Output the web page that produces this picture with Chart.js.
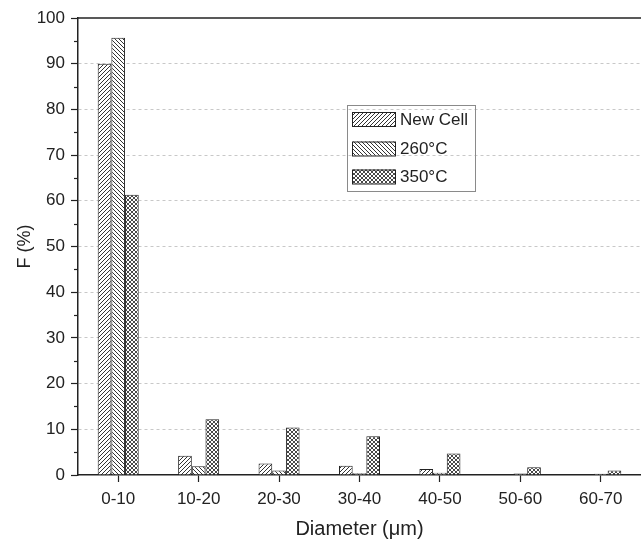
<!DOCTYPE html>
<html>
<head>
<meta charset="utf-8">
<script src="https://cdn.jsdelivr.net/npm/chart.js@4/dist/chart.umd.min.js"></script>
<style>
html,body{margin:0;padding:0;background:#fff;}
#wrap{width:641px;height:541px;position:relative;}
</style>
</head>
<body>
<div id="wrap"><canvas id="c" width="641" height="541"></canvas></div>
<script>
const categories = ["0-10","10-20","20-30","30-40","40-50","50-60","60-70"];
const seriesNames = ["New Cell","260\u00B0C","350\u00B0C"];
const newCell = [90, 4.2, 2.5, 2.0, 1.3, 0, 0];
const c260 = [95.7, 1.9, 1.0, 0.4, 0.5, 0.35, 0.3];
const c350 = [61.3, 12.2, 10.4, 8.5, 4.7, 1.7, 1.0];
const yTicks = [0,10,20,30,40,50,60,70,80,90,100];

const FONT = "'Liberation Sans', Arial, sans-serif";
const ctx0 = document.getElementById('c').getContext('2d');

function makePattern(kind){
  const s = 4;
  const t = document.createElement('canvas');
  t.width = s; t.height = s;
  const g = t.getContext('2d');
  g.fillStyle = '#fff'; g.fillRect(0,0,s,s);
  g.strokeStyle = '#333'; g.lineWidth = 1;
  function fwd(){ g.beginPath(); g.moveTo(-1,s+1); g.lineTo(s+1,-1); g.moveTo(-1,1); g.lineTo(1,-1); g.moveTo(s-1,s+1); g.lineTo(s+1,s-1); g.stroke(); }
  function back(){ g.beginPath(); g.moveTo(-1,-1); g.lineTo(s+1,s+1); g.moveTo(s-1,-1); g.lineTo(s+1,1); g.moveTo(-1,s-1); g.lineTo(1,s+1); g.stroke(); }
  if(kind==='fwd') fwd();
  else if(kind==='back') back();
  else { g.lineWidth = 0.9; fwd(); back(); }
  return ctx0.createPattern(t,'repeat');
}
const patterns = [makePattern('fwd'), makePattern('back'), makePattern('cross')];

const extras = {
  id:'extras',
  afterDraw(chart){
    const {ctx, chartArea:a, scales:{y}} = chart;
    ctx.save();
    // top border
    ctx.strokeStyle = '#222'; ctx.lineWidth = 1.5;
    ctx.beginPath(); ctx.moveTo(a.left, a.top); ctx.lineTo(chart.width, a.top); ctx.stroke();
    // minor ticks
    ctx.lineWidth = 1.2;
    for(let v=5; v<100; v+=10){
      const py = Math.round(y.getPixelForValue(v))+0.5;
      ctx.beginPath(); ctx.moveTo(a.left-4, py); ctx.lineTo(a.left, py); ctx.stroke();
    }
    // legend
    const lx = 347, ly = 105, lw = 128, lh = 86;
    ctx.strokeStyle = '#8a8a8a'; ctx.lineWidth = 1;
    ctx.strokeRect(lx+0.5, ly+0.5, lw, lh);
    const rows = [112, 141.5, 169.5];
    ctx.font = "17px " + FONT;
    ctx.textBaseline = 'middle';
    chart.data.datasets.forEach((ds,i)=>{
      const sy = rows[i];
      ctx.fillStyle = ds.backgroundColor;
      ctx.fillRect(352, sy, 43, 14);
      ctx.strokeStyle = '#222'; ctx.lineWidth = 1;
      ctx.strokeRect(352.5, sy+0.5, 43, 14);
      ctx.fillStyle = '#222';
      ctx.fillText(ds.label, 400, sy+8);
    });
    ctx.restore();
  }
};

new Chart(ctx0, {
  type:'bar',
  data:{
    labels: categories,
    datasets:[
      {label:seriesNames[0], data:newCell, backgroundColor:patterns[0], borderColor:'#222', borderWidth:1},
      {label:seriesNames[1], data:c260, backgroundColor:patterns[1], borderColor:'#222', borderWidth:1},
      {label:seriesNames[2], data:c350, backgroundColor:patterns[2], borderColor:'#222', borderWidth:1}
    ]
  },
  options:{
    responsive:false,
    animation:false,
    devicePixelRatio:1,
    layout:{padding:{top:18, right:0, left:0, bottom:0}},
    datasets:{bar:{categoryPercentage:0.51, barPercentage:1.0}},
    plugins:{legend:{display:false}, tooltip:{enabled:false}},
    scales:{
      x:{
        grid:{display:true, drawOnChartArea:false, offset:false, tickLength:7, tickColor:'#222', tickWidth:1.2},
        border:{display:true, color:'#222', width:1.5},
        ticks:{font:{family:FONT, size:17}, color:'#222', padding:7, maxRotation:0},
        title:{display:true, text:'Diameter (\u03BCm)', font:{family:FONT, size:20}, color:'#222', padding:{top:2,bottom:0}},
        afterFit(s){ s.height = 541-475; }
      },
      y:{
        min:0, max:100,
        afterBuildTicks(s){ s.ticks = yTicks.map(v=>({value:v})); },
        grid:{
          color:(c)=> (c.tick && (c.tick.value===0 || c.tick.value===100)) ? 'rgba(0,0,0,0)' : '#c8c8c8',
          lineWidth:1,
          tickLength:7, tickColor:'#222', tickWidth:1.2, tickBorderDash:[]
        },
        border:{display:true, color:'#222', width:1.5, dash:[3,3]},
        ticks:{font:{family:FONT, size:17}, color:'#222', padding:6},
        title:{display:true, text:'F (%)', font:{family:FONT, size:18}, color:'#222', padding:{top:14,bottom:0}},
        afterFit(s){ s.width = 78; }
      }
    }
  },
  plugins:[extras]
});
</script>
</body>
</html>
